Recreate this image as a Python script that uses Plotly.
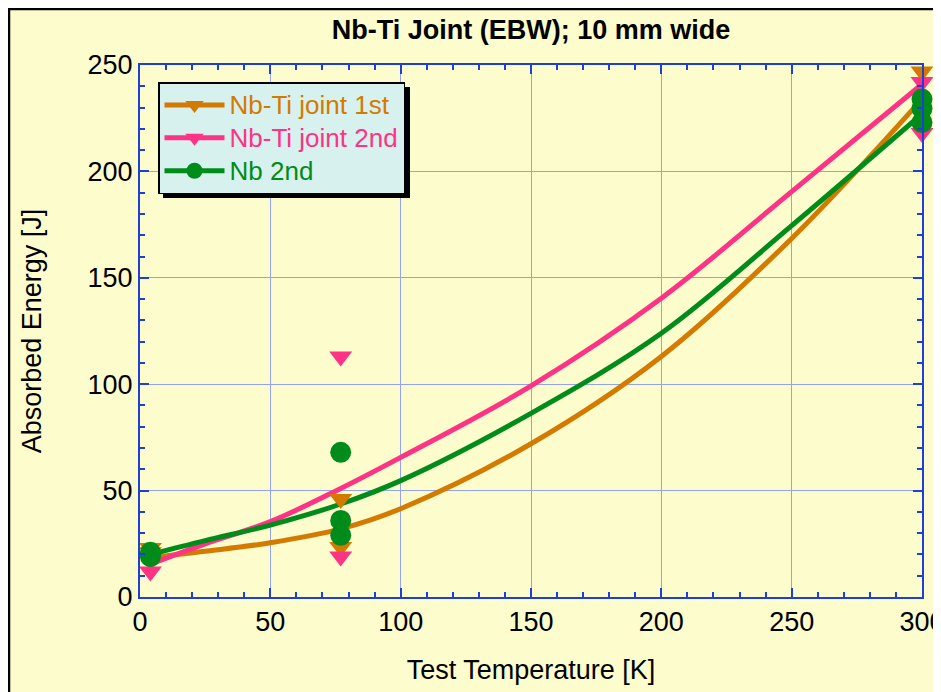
import plotly.graph_objects as go

# ---- data ----
orange_name = "Nb-Ti joint 1st"
pink_name = "Nb-Ti joint 2nd"
green_name = "Nb 2nd"

orange_pts_x = [4, 4, 77, 77, 300, 300]
orange_pts_y = [23, 21, 46, 23.5, 251, 247]
pink_pts_x = [4, 4, 77, 77, 300, 300]
pink_pts_y = [12, 17, 113, 19, 242, 218]
green_pts_x = [4, 4, 77, 77, 77, 300, 300, 300]
green_pts_y = [19, 21, 68, 36, 29, 234, 229.5, 223]

curve_x = [4, 25, 50, 77, 100, 150, 200, 250, 300]
orange_curve = [18.5, 21.5, 25.5, 32, 41.5, 72, 113, 168.5, 234]
pink_curve = [15.5, 25, 35.4, 51, 65.6, 99.2, 140.4, 190.5, 241]
green_curve = [20, 26.5, 33.8, 43.7, 54.7, 86.3, 123.9, 174.5, 227]

ORANGE = "#D47A00"
PINK = "#FF3385"
GREEN = "#008C1A"
BG = "#FCFCCC"
AXIS = "#1F3FD9"
GRID = "#93A3EE"

FONT = "Liberation Sans, Arial, sans-serif"

fig = go.Figure()

series = [
    (orange_name, ORANGE, "triangle-down", orange_pts_x, orange_pts_y, orange_curve),
    (pink_name, PINK, "triangle-down", pink_pts_x, pink_pts_y, pink_curve),
    (green_name, GREEN, "circle", green_pts_x, green_pts_y, green_curve),
]

# fitted curves
for name, col, sym, px, py, cy in series:
    fig.add_trace(go.Scatter(x=curve_x, y=cy, mode="lines",
                             line=dict(color=col, width=5, shape="spline", smoothing=1.0),
                             showlegend=False, hoverinfo="skip", cliponaxis=False))
# measured points
for name, col, sym, px, py, cy in series:
    size = 21 if sym == "circle" else 20
    fig.add_trace(go.Scatter(x=px, y=py, mode="markers",
                             marker=dict(color=col, symbol=sym, size=size, line=dict(width=0)),
                             showlegend=False, cliponaxis=False))
# legend entries
for name, col, sym, px, py, cy in series:
    size = 19 if sym == "circle" else 18
    fig.add_trace(go.Scatter(x=[None], y=[None], mode="lines+markers",
                             name=f"<span style='color:{col};font-size:26px'>{name}</span>",
                             line=dict(color=col, width=5),
                             marker=dict(color=col, symbol=sym, size=size)))

W, H = 941, 692
L, T = 132, 57
pw, ph = 782, 532
R, B = W - L - pw, H - T - ph


def fx(p):
    return (p - L) / pw


def fy(p):
    return (T + ph - p) / ph


# outer black frame of the chart
fig.add_shape(type="rect", xref="paper", yref="paper",
              x0=fx(1), x1=fx(980), y0=fy(740), y1=fy(1),
              line=dict(color="black", width=2.5), fillcolor=BG, layer="below")
# legend drop shadow
LEG_X, LEG_Y, LEG_W, LEG_H = 150, 74, 247, 111
fig.add_shape(type="rect", xref="paper", yref="paper",
              x0=fx(LEG_X + 5), x1=fx(LEG_X + LEG_W + 5),
              y0=fy(LEG_Y + LEG_H + 5), y1=fy(LEG_Y + 5),
              line=dict(width=0), fillcolor="black", layer="above")

axis_common = dict(
    showline=True, linecolor=AXIS, linewidth=2, mirror="allticks",
    ticks="inside", tickcolor=AXIS, ticklen=9, tickwidth=1.5,
    showgrid=True, gridcolor=GRID, gridwidth=1, zeroline=False,
    tickfont=dict(family=FONT, size=27, color="black"),
    minor=dict(ticks="inside", ticklen=5, tickcolor=AXIS, dtick=10, showgrid=False),
)

fig.update_xaxes(range=[0, 300], dtick=50, tick0=0,
                 title=dict(text="Test Temperature [K]",
                            font=dict(family=FONT, size=27, color="black"), standoff=24),
                 **axis_common)
fig.update_yaxes(range=[0, 250], dtick=50, tick0=0,
                 title=dict(text="Absorbed Energy [J]",
                            font=dict(family=FONT, size=27, color="black"), standoff=38),
                 **axis_common)

fig.update_layout(
    width=W, height=H,
    margin=dict(l=L, r=R, t=T, b=B, autoexpand=False),
    paper_bgcolor="white",
    plot_bgcolor=BG,
    title=dict(text="<b>Nb-Ti Joint (EBW); 10 mm wide</b>", x=(L + pw / 2) / W,
               xanchor="center", y=1 - 22 / H, yanchor="middle",
               font=dict(family=FONT, size=27, color="black")),
    legend=dict(x=fx(LEG_X), y=fy(LEG_Y), xanchor="left", yanchor="top",
                bgcolor="#D6F1EE", bordercolor="black", borderwidth=1.5,
                font=dict(family=FONT, size=23), itemwidth=60, tracegroupgap=0),
    showlegend=True,
)

fig.write_html("out.html")
